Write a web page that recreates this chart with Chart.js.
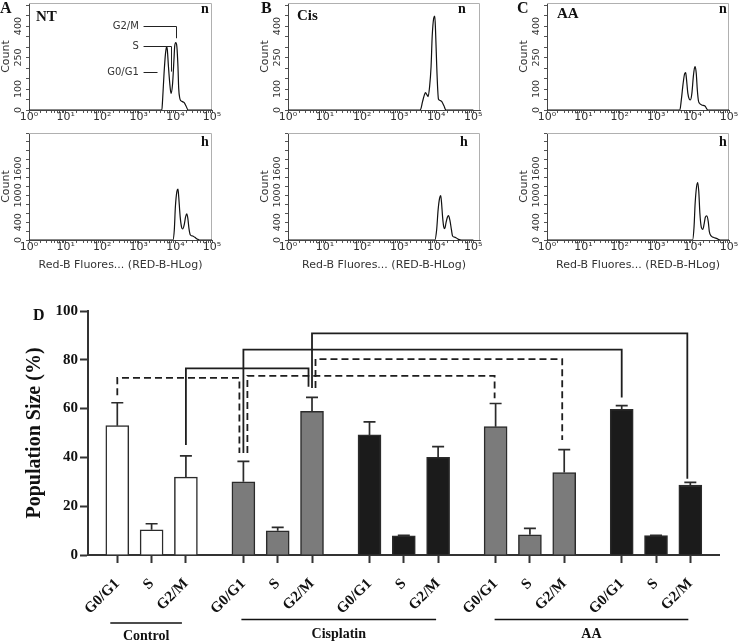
<!DOCTYPE html>
<html><head><meta charset="utf-8">
<script src="https://cdn.jsdelivr.net/npm/chart.js@4/dist/chart.umd.min.js"></script>
<style>
html,body{margin:0;padding:0;background:#fff;}
#wrap{position:relative;width:738px;height:642px;overflow:hidden;background:#fff;}
canvas{position:absolute;}
.t{position:absolute;font-family:"Liberation Serif","Times New Roman",serif;font-weight:bold;color:#111;line-height:1;white-space:nowrap;}
</style></head><body>
<div id="wrap">
<canvas id="cA1" width="232" height="130" style="left:0;top:0"></canvas>
<canvas id="cA2" width="232" height="145" style="left:0;top:130px"></canvas>
<canvas id="cB1" width="225" height="130" style="left:259px;top:0"></canvas>
<canvas id="cB2" width="225" height="145" style="left:259px;top:130px"></canvas>
<canvas id="cC1" width="220" height="130" style="left:518px;top:0"></canvas>
<canvas id="cC2" width="220" height="145" style="left:518px;top:130px"></canvas>
<canvas id="cD" width="738" height="352" style="left:0;top:290px"></canvas>
<div class="t" style="left:0;top:0;font-size:16px">A</div>
<div class="t" style="left:261px;top:0;font-size:16px">B</div>
<div class="t" style="left:517px;top:0;font-size:16px">C</div>
<div class="t" style="left:33px;top:307px;font-size:16px">D</div>
<div class="t" style="left:36px;top:9px;font-size:15px">NT</div>
<div class="t" style="left:297px;top:8px;font-size:15px">Cis</div>
<div class="t" style="left:557px;top:6px;font-size:15px">AA</div>
<div class="t" style="left:201px;top:2px;font-size:14px">n</div>
<div class="t" style="left:458px;top:2px;font-size:14px">n</div>
<div class="t" style="left:719px;top:2px;font-size:14px">n</div>
<div class="t" style="left:201px;top:135px;font-size:14px">h</div>
<div class="t" style="left:460px;top:135px;font-size:14px">h</div>
<div class="t" style="left:719px;top:135px;font-size:14px">h</div>
</div>
<script>
// ---------------- DATA ----------------
// Histograms: x = log10(Red-B fluorescence), y = count
const ntNormLog    = [0, 3.63, 3.65, 3.69, 3.73, 3.76, 3.78, 3.81, 3.85, 3.88, 3.92, 3.96, 3.98, 4.01, 4.04, 4.07, 4.09, 4.12, 4.15, 4.19, 4.24, 4.29, 4.35, 5];
const ntNormCount  = [0, 0, 48, 175, 270, 302, 286, 207, 119, 79, 119, 238, 302, 321, 302, 207, 103, 56, 44, 40, 35, 19, 0, 0];
const ntHypLog     = [0, 3.93, 3.97, 4.00, 4.04, 4.07, 4.09, 4.13, 4.17, 4.20, 4.24, 4.28, 4.31, 4.34, 4.37, 4.41, 4.47, 4.53, 4.61, 4.66, 5];
const ntHypCount   = [0, 0, 225, 750, 1087, 1140, 975, 525, 285, 247, 337, 525, 585, 487, 262, 112, 90, 60, 15, 0, 0];
const cisNormLog   = [0, 3.57, 3.63, 3.68, 3.71, 3.75, 3.78, 3.82, 3.86, 3.89, 3.93, 3.96, 3.98, 4.01, 4.04, 4.06, 4.11, 4.15, 4.21, 4.26, 5];
const cisNormCount = [0, 0, 40, 72, 83, 72, 64, 111, 207, 350, 437, 448, 381, 222, 95, 51, 45, 40, 19, 0, 0];
const cisHypLog    = [0, 3.96, 4.01, 4.05, 4.09, 4.12, 4.14, 4.17, 4.20, 4.23, 4.26, 4.30, 4.33, 4.37, 4.41, 4.44, 4.51, 4.60, 4.68, 5];
const cisHypCount  = [0, 0, 225, 675, 937, 997, 862, 525, 300, 255, 375, 510, 547, 435, 225, 90, 60, 15, 0, 0];
const aaNormLog    = [0, 3.65, 3.69, 3.74, 3.78, 3.81, 3.83, 3.87, 3.91, 3.94, 3.98, 4.02, 4.05, 4.07, 4.10, 4.13, 4.16, 4.19, 4.25, 4.34, 4.42, 5];
const aaNormCount  = [0, 0, 48, 127, 172, 178, 151, 79, 51, 48, 79, 159, 199, 207, 175, 95, 44, 32, 24, 19, 0, 0];
const aaHypLog     = [0, 4.00, 4.04, 4.07, 4.11, 4.14, 4.17, 4.20, 4.24, 4.28, 4.32, 4.35, 4.39, 4.43, 4.46, 4.51, 4.57, 4.67, 4.76, 5];
const aaHypCount   = [0, 0, 300, 825, 1200, 1290, 1087, 600, 285, 240, 375, 510, 540, 412, 187, 90, 60, 30, 0, 0];
const countTicksNorm = [0, 100, 250, 400];
const countTicksHyp  = [0, 400, 1000, 1600];
const phaseNoteLabels = ['G2/M', 'S', 'G0/G1'];

// Bar chart: population size (%) per cell-cycle phase
const phases = ['G0/G1', 'S', 'G2/M'];
const groupNames = ['Control', 'Cisplatin', 'AA'];
const controlMean    = [53.0, 10.3, 31.9];
const controlErr     = [9.4, 2.5, 8.7];
const cisplatinNMean = [30.0, 9.9, 58.9];
const cisplatinNErr  = [8.4, 1.4, 5.7];
const cisplatinHMean = [49.2, 7.9, 40.0];
const cisplatinHErr  = [5.4, 0.2, 4.4];
const aaNMean = [52.6, 8.3, 33.8];
const aaNErr  = [9.5, 2.6, 9.4];
const aaHMean = [59.7, 8.0, 28.7];
const aaHErr  = [1.5, 0.1, 1.1];
const yTicksD = [0, 20, 40, 60, 80, 100];
// significance brackets: [from bar, to bar], level (%), leg ends (%)
const bracketPairs   = [[0, 3], [2, 5], [3, 12], [5, 14], [5, 11], [3, 9]];
const bracketLevels  = [72.6, 76.5, 84.2, 90.8, 80.3, 73.4];
const bracketLegEnds = [[65.5, 41.8], [45.1, 69.0], [41.8, 64.6], [68.4, 31.2], [68.4, 47.1], [41.8, 64.2]];

// ---------------- STYLE / LAYOUT ----------------
const SANS = '"DejaVu Sans", Verdana, sans-serif';
const SERIF = '"Liberation Serif", "Times New Roman", serif';
const sup = ['\u2070', '\u00B9', '\u00B2', '\u00B3', '\u2074', '\u2075'];
const bracketDashed = [true, false, false, false, true, true];
const bracketNudge  = [[0, -4], [0, -3.5], [0, 0], [0, -3], [3.5, -2], [4, -1]];

const framePlugin = {
  id: 'frame',
  beforeDatasetsDraw(chart) {
    const {ctx, chartArea: a} = chart;
    ctx.save();
    ctx.strokeStyle = '#b0b0b0'; ctx.lineWidth = 1;
    ctx.beginPath();
    ctx.moveTo(a.left, a.top + 0.5); ctx.lineTo(a.right - 0.5, a.top + 0.5); ctx.lineTo(a.right - 0.5, a.bottom);
    ctx.stroke(); ctx.restore();
  }
};

function makeHist(id, logs, counts, o) {
  return new Chart(document.getElementById(id), {
    type: 'line',
    data: {datasets: [{data: logs.map((x, i) => ({x: x, y: counts[i]})), borderColor: '#111', borderWidth: 1.2,
      pointRadius: 0, fill: false, cubicInterpolationMode: 'monotone'}]},
    options: {
      responsive: false, animation: false, events: [],
      layout: {padding: {top: 3, right: o.padRight, left: 0, bottom: 0}},
      plugins: {legend: {display: false}, tooltip: {enabled: false}},
      scales: {
        x: {
          type: 'linear', min: 0, max: o.xMax, offset: false,
          afterBuildTicks: s => { const t = []; for (let d = 0; d < 5; d++) for (let k = 1; k < 10; k++) t.push({value: d + Math.log10(k)}); t.push({value: 5}); s.ticks = t; },
          afterFit: s => { s.height = o.xHeight; s.paddingLeft = 0; s.paddingRight = 0; },
          ticks: {autoSkip: false, minRotation: 0, maxRotation: 0, padding: -2, color: '#333', font: {family: SANS, size: 11},
            callback: v => Number.isInteger(v) ? '10' + sup[v] : ''},
          grid: {drawOnChartArea: false, offset: false, tickLength: 3, tickColor: '#555'},
          border: {color: '#444', width: 1},
          title: {display: o.xTitle, text: 'Red-B Fluores... (RED-B-HLog)', color: '#333', font: {family: SANS, size: 11}, padding: {top: 0, bottom: 3}}
        },
        y: {
          min: 0, max: o.yMax,
          afterBuildTicks: s => { const t = []; for (let v = 0; v <= o.yMax + 1e-9; v += o.yStep) t.push({value: v}); s.ticks = t; },
          afterFit: s => { s.width = 29; s.paddingTop = 0; s.paddingBottom = 0; },
          ticks: {autoSkip: false, minRotation: 90, maxRotation: 90, crossAlign: 'center', padding: o.yPad, color: '#333',
            font: {family: SANS, size: 9.5}, callback: v => o.yLabels.includes(v) ? String(v) : ''},
          grid: {drawOnChartArea: false, tickLength: 3, tickColor: '#555'},
          border: {color: '#444', width: 1},
          title: {display: true, text: 'Count', color: '#333', font: {family: SANS, size: 11}, padding: {top: 0, bottom: 0}}
        }
      }
    },
    plugins: [framePlugin].concat(o.extra || [])
  });
}

// phase annotation for NT normoxia histogram (positions in data units)
const phaseNotePlugin = {
  id: 'phaseNotes',
  afterDatasetsDraw(chart) {
    const {ctx} = chart; const x = chart.scales.x, y = chart.scales.y;
    const notes = [
      {textY: 400, lineFrom: 3.13, lineTo: 4.03, dropTo: 342},
      {textY: 305, lineFrom: 3.13, lineTo: 3.87, dropTo: 183},
      {textY: 181, lineFrom: 3.13, lineTo: 3.49, dropTo: null}
    ];
    ctx.save();
    ctx.font = '10px ' + SANS; ctx.fillStyle = '#333'; ctx.strokeStyle = '#222'; ctx.lineWidth = 1;
    ctx.textAlign = 'right'; ctx.textBaseline = 'middle';
    notes.forEach((n, i) => {
      const yy = Math.round(y.getPixelForValue(n.textY)) + 0.5;
      ctx.fillText(phaseNoteLabels[i], x.getPixelForValue(3.0), yy);
      ctx.beginPath();
      ctx.moveTo(x.getPixelForValue(n.lineFrom), yy);
      const xe = Math.round(x.getPixelForValue(n.lineTo)) + 0.5;
      ctx.lineTo(xe, yy);
      if (n.dropTo !== null) ctx.lineTo(xe, y.getPixelForValue(n.dropTo));
      ctx.stroke();
    });
    ctx.restore();
  }
};

const normCfg = {yMax: 510, yStep: 50, yLabels: countTicksNorm, yPad: -2, xHeight: 20, xTitle: false};
const hypCfg  = {yMax: 2400, yStep: 200, yLabels: countTicksHyp, yPad: -5, xHeight: 35, xTitle: true};
makeHist('cA1', ntNormLog, ntNormCount, Object.assign({}, normCfg, {xMax: 5, padRight: 20, extra: [phaseNotePlugin]}));
makeHist('cA2', ntHypLog, ntHypCount, Object.assign({}, hypCfg, {xMax: 5, padRight: 20}));
makeHist('cB1', cisNormLog, cisNormCount, Object.assign({}, normCfg, {xMax: 5.18, padRight: 4}));
makeHist('cB2', cisHypLog, cisHypCount, Object.assign({}, hypCfg, {xMax: 5.18, padRight: 4}));
makeHist('cC1', aaNormLog, aaNormCount, Object.assign({}, normCfg, {xMax: 5, padRight: 9}));
makeHist('cC2', aaHypLog, aaHypCount, Object.assign({}, hypCfg, {xMax: 5, padRight: 9}));

// ---------------- BAR CHART ----------------
const GROUP_STEP = 3.676;
const sets = [
  {means: controlMean, errs: controlErr},
  {means: cisplatinNMean, errs: cisplatinNErr},
  {means: cisplatinHMean, errs: cisplatinHErr},
  {means: aaNMean, errs: aaNErr},
  {means: aaHMean, errs: aaHErr}
];
const setColors = ['#ffffff', '#7b7b7b', '#1b1b1b', '#7b7b7b', '#1b1b1b'];
const groupSets = [[0], [1, 2], [3, 4]];
const barPos = [], barVal = [], barErr = [], barColor = [];
sets.forEach((s, si) => s.means.forEach((m, p) => {
  barPos.push(si * GROUP_STEP + p); barVal.push(m); barErr.push(s.errs[p]); barColor.push(setColors[si]);
}));

const errorBarPlugin = {
  id: 'errorBars',
  afterDatasetsDraw(chart) {
    const {ctx} = chart; const x = chart.scales.x, y = chart.scales.y;
    ctx.save(); ctx.strokeStyle = '#2b2b2b'; ctx.lineWidth = 1.7;
    barPos.forEach((p, i) => {
      const px = x.getPixelForValue(p);
      const y0 = y.getPixelForValue(barVal[i]);
      const y1 = y.getPixelForValue(barVal[i] + barErr[i]);
      ctx.beginPath();
      ctx.moveTo(px, y0); ctx.lineTo(px, y1);
      ctx.moveTo(px - 6, y1); ctx.lineTo(px + 6, y1);
      ctx.stroke();
    });
    ctx.restore();
  }
};

const bracketPlugin = {
  id: 'brackets',
  afterDatasetsDraw(chart) {
    const {ctx} = chart; const x = chart.scales.x, y = chart.scales.y;
    ctx.save(); ctx.strokeStyle = '#1e1e1e'; ctx.lineWidth = 1.8;
    bracketPairs.forEach((pair, i) => {
      const x1 = x.getPixelForValue(barPos[pair[0]]) + bracketNudge[i][0];
      const x2 = x.getPixelForValue(barPos[pair[1]]) + bracketNudge[i][1];
      const yl = y.getPixelForValue(bracketLevels[i]);
      ctx.setLineDash(bracketDashed[i] ? [7, 4] : []);
      ctx.beginPath();
      ctx.moveTo(x1, y.getPixelForValue(bracketLegEnds[i][0]));
      ctx.lineTo(x1, yl); ctx.lineTo(x2, yl);
      ctx.lineTo(x2, y.getPixelForValue(bracketLegEnds[i][1]));
      ctx.stroke();
    });
    ctx.restore();
  }
};

const groupLabelPlugin = {
  id: 'groupLabels',
  afterDraw(chart) {
    const {ctx, chartArea: a} = chart; const x = chart.scales.x;
    const nudges = [[-7, -4], [-2, -2], [-1, -2]];
    const lineOff = [68, 64.5, 64.5], textOff = [81, 79, 79];
    ctx.save();
    ctx.strokeStyle = '#111'; ctx.lineWidth = 1.5; ctx.fillStyle = '#111';
    ctx.font = 'bold 14px ' + SERIF; ctx.textAlign = 'center'; ctx.textBaseline = 'middle';
    groupSets.forEach((gs, gi) => {
      const first = gs[0] * 3, last = gs[gs.length - 1] * 3 + 2;
      const xa = x.getPixelForValue(barPos[first]) + nudges[gi][0];
      const xb = x.getPixelForValue(barPos[last]) + nudges[gi][1];
      const ly = a.bottom + lineOff[gi];
      ctx.beginPath(); ctx.moveTo(xa, ly); ctx.lineTo(xb, ly); ctx.stroke();
      ctx.fillText(groupNames[gi], (xa + xb) / 2, a.bottom + textOff[gi]);
    });
    ctx.restore();
  }
};

new Chart(document.getElementById('cD'), {
  type: 'bar',
  data: {datasets: [{data: barPos.map((p, i) => ({x: p, y: barVal[i]})), backgroundColor: barColor,
    borderColor: '#2b2b2b', borderWidth: 1.5, barThickness: 23}]},
  options: {
    responsive: false, animation: false, events: [],
    layout: {padding: {top: 21, right: 19, left: 0, bottom: 0}},
    plugins: {legend: {display: false}, tooltip: {enabled: false}},
    scales: {
      x: {
        type: 'linear', min: -0.854, max: 17.54, offset: false,
        afterBuildTicks: s => { s.ticks = barPos.map(v => ({value: v})); },
        afterFit: s => { s.height = 87; s.paddingLeft = 0; s.paddingRight = 0; },
        ticks: {autoSkip: false, minRotation: 45, maxRotation: 45, padding: 12, color: '#111',
          font: {family: SERIF, weight: 'bold', size: 15}, callback: (v, i) => phases[i % 3]},
        grid: {drawOnChartArea: false, offset: false, tickLength: 8, tickWidth: 2, tickColor: '#333'},
        border: {color: '#333', width: 2}
      },
      y: {
        min: 0, max: 100,
        afterBuildTicks: s => { s.ticks = yTicksD.map(v => ({value: v})); },
        afterFit: s => { s.width = 88; },
        ticks: {padding: 2, color: '#111', font: {family: SERIF, weight: 'bold', size: 15}},
        grid: {drawOnChartArea: false, tickLength: 8, tickWidth: 2, tickColor: '#333'},
        border: {color: '#333', width: 2},
        title: {display: true, text: 'Population Size (%)', color: '#111',
          font: {family: SERIF, weight: 'bold', size: 20}, padding: {top: 23, bottom: 0}}
      }
    }
  },
  plugins: [errorBarPlugin, bracketPlugin, groupLabelPlugin]
});
</script>
</body></html>
